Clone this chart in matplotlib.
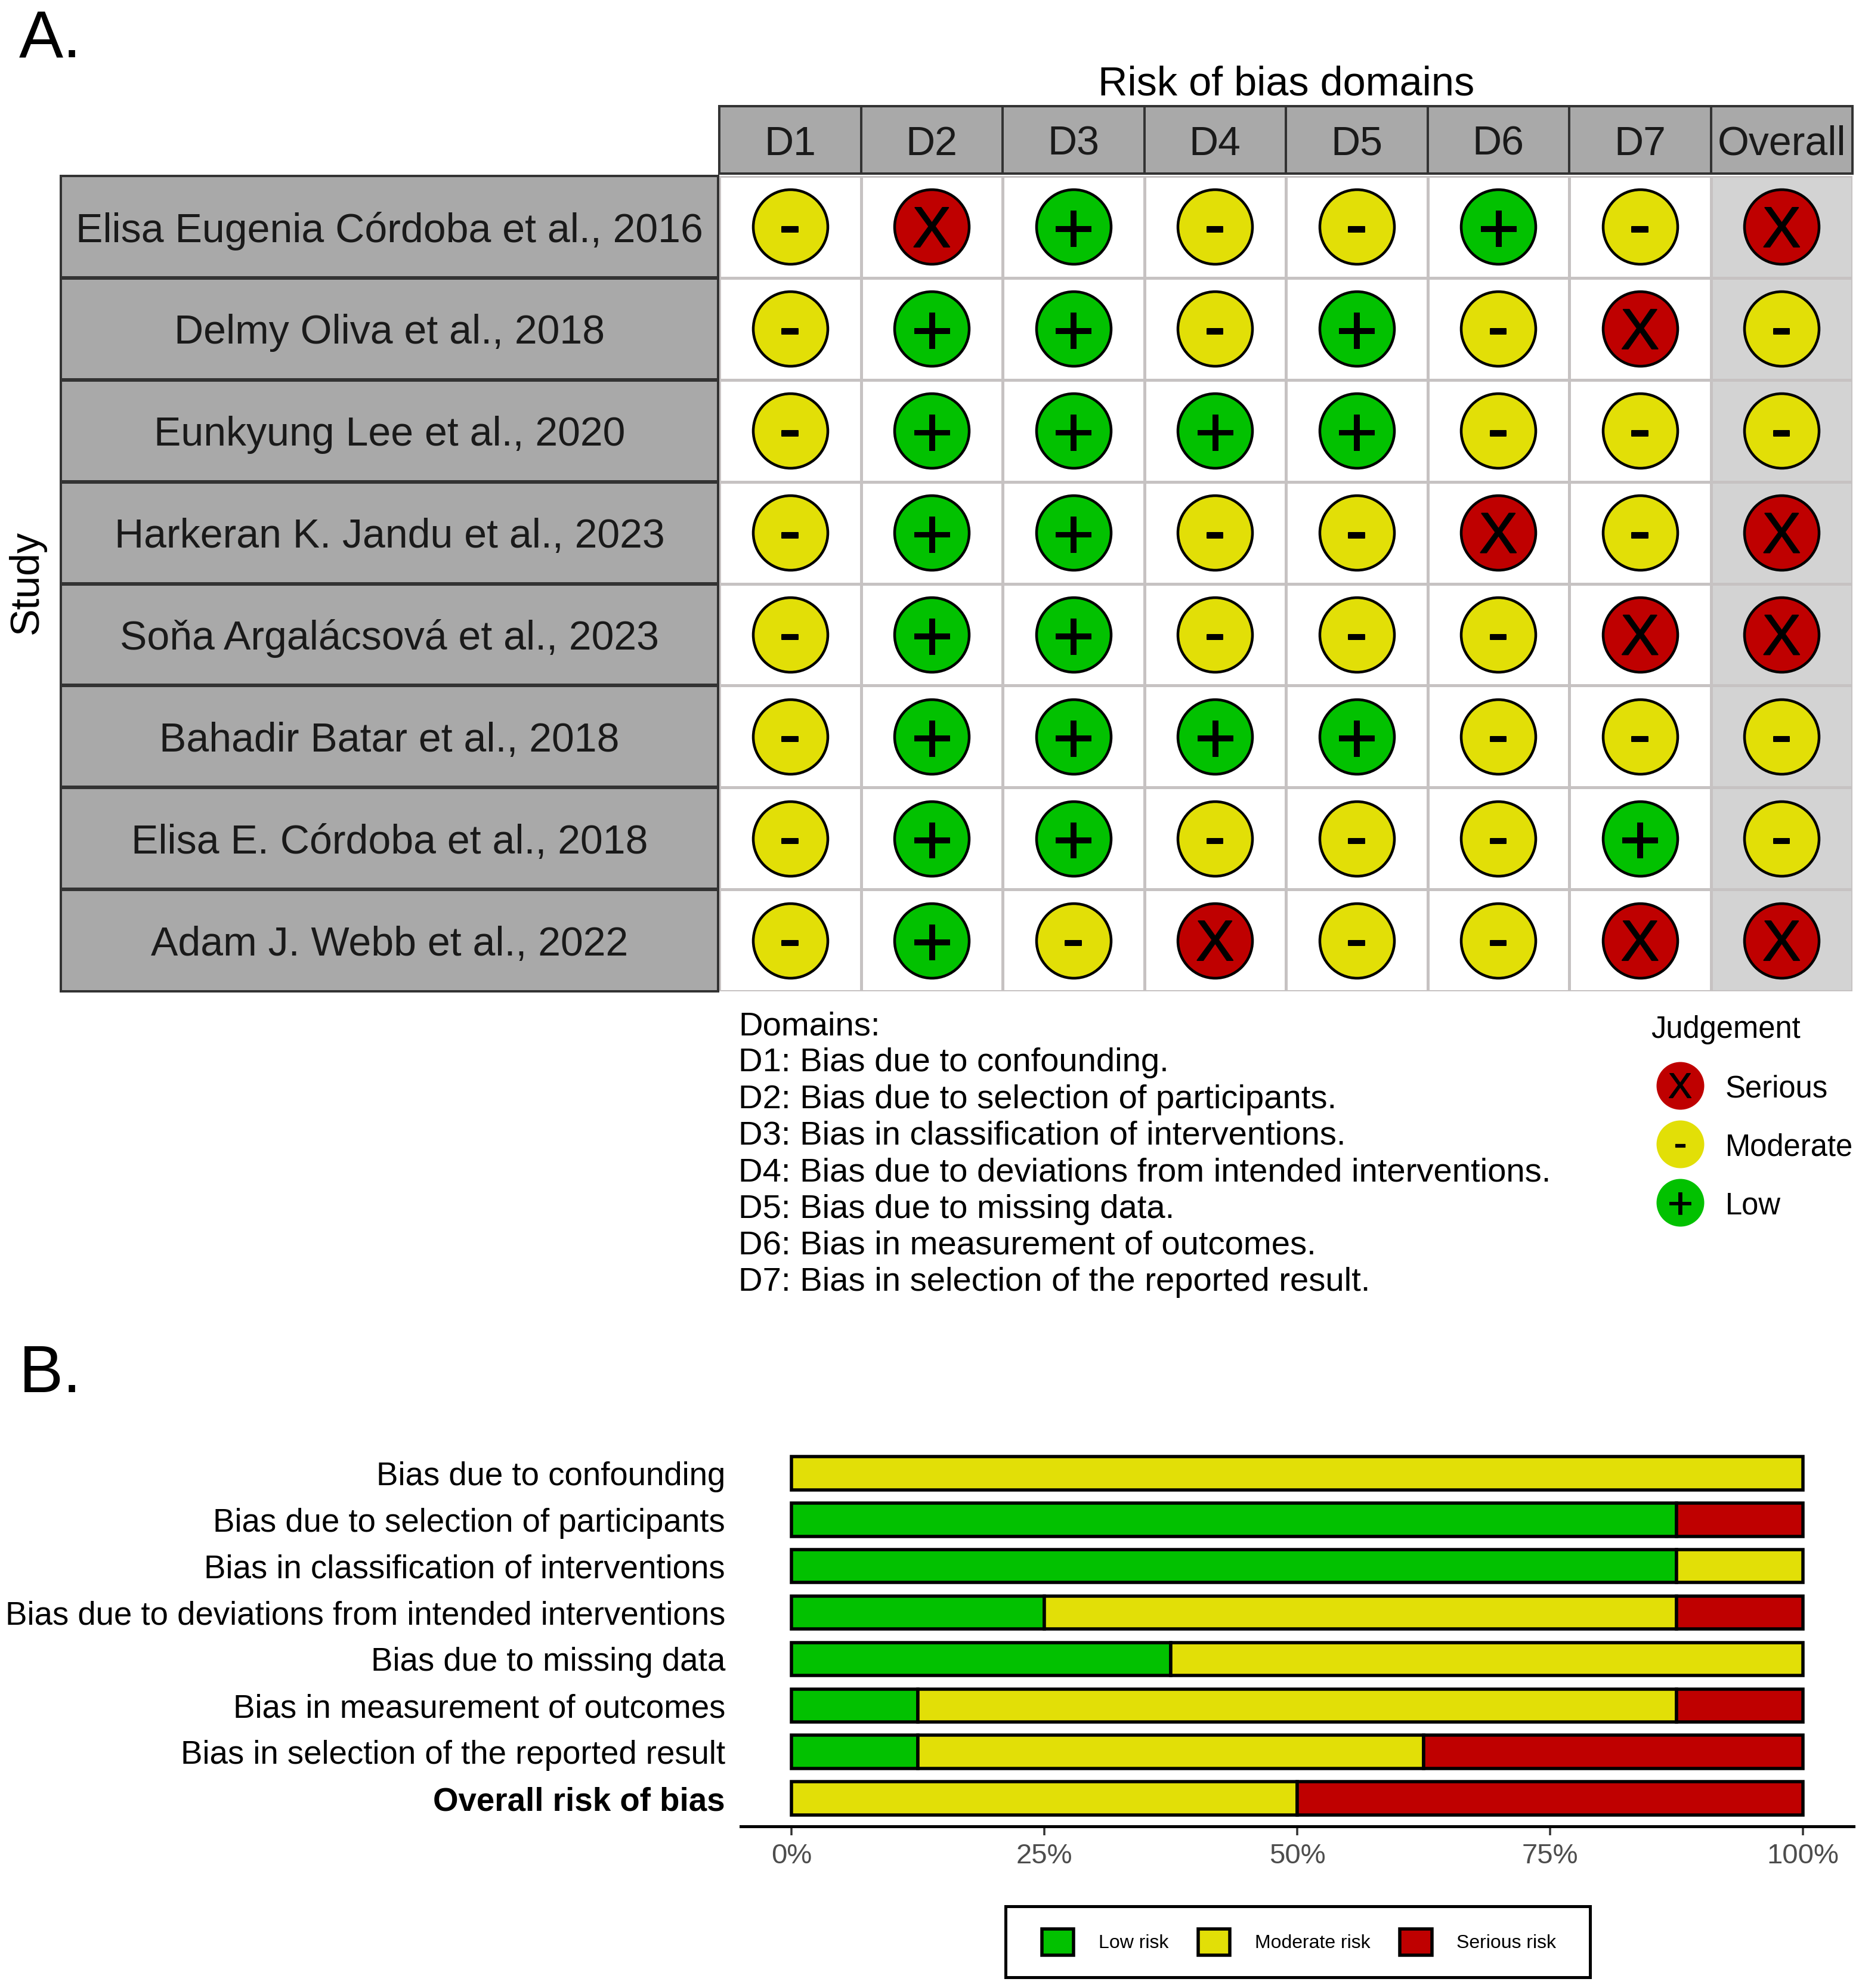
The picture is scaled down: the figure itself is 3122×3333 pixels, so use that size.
import matplotlib as mpl
mpl.use("Agg")
import numpy as np
import matplotlib.pyplot as plt
import matplotlib.patheffects as pe
from matplotlib.patches import Rectangle, Patch

plt.rcParams['font.family'] = ['Liberation Sans', 'DejaVu Sans']

W, H = 3122, 3333
DPI = 100

studies = ["Elisa Eugenia Córdoba et al., 2016", "Delmy Oliva et al., 2018",
           "Eunkyung Lee et al., 2020", "Harkeran K. Jandu et al., 2023",
           "Soňa Argalácsová et al., 2023", "Bahadir Batar et al., 2018",
           "Elisa E. Córdoba et al., 2018", "Adam J. Webb et al., 2022"]
domains = ["D1", "D2", "D3", "D4", "D5", "D6", "D7", "Overall"]
judgements = ["-X+--+-X",
              "-++-+-X-",
              "-++++---",
              "-++--X-X",
              "-++---XX",
              "-++++---",
              "-++---+-",
              "-+-X--XX"]
domain_notes = ["Domains:",
                "D1: Bias due to confounding.",
                "D2: Bias due to selection of participants.",
                "D3: Bias in classification of interventions.",
                "D4: Bias due to deviations from intended interventions.",
                "D5: Bias due to missing data.",
                "D6: Bias in measurement of outcomes.",
                "D7: Bias in selection of the reported result."]

bias_labels = ["Bias due to confounding", "Bias due to selection of participants",
               "Bias in classification of interventions",
               "Bias due to deviations from intended interventions",
               "Bias due to missing data", "Bias in measurement of outcomes",
               "Bias in selection of the reported result", "Overall risk of bias"]
low_risk = [0, 87.5, 87.5, 25, 37.5, 12.5, 12.5, 0]
moderate_risk = [100, 0, 12.5, 62.5, 62.5, 75, 50, 50]
serious_risk = [0, 12.5, 0, 12.5, 0, 12.5, 37.5, 50]
pct_ticks = [0, 25, 50, 75, 100]

RED, YELLOW, GREEN = "#BF0000", "#E2DF07", "#02C100"
fill = {"X": RED, "-": YELLOW, "+": GREEN}
STRIP = "#A9A9A9"
STRIP_EDGE = "#333333"
CELL_LINE = "#C6C2C2"


def pt(px):
    return px * 72 / DPI


def make_axes(left, top, right, bottom):
    return fig.add_axes([left / W, 1 - bottom / H, (right - left) / W, (bottom - top) / H])


def ftext(x, y, s, **kw):
    return fig.text(x / W, 1 - y / H, s, **kw)


def glyph(ax, x, y, j, scale=1.0):
    size = {"X": 69, "-": 78, "+": 88}[j] * scale
    lift = {"X": 1.5, "-": 6, "+": 1}[j] * scale
    thick = {"X": 2, "-": 2, "+": 1}[j] * scale
    t = ax.annotate(j, (x, y), xytext=(0, pt(lift)), textcoords="offset points", fontsize=size,
                    ha="center", va="center_baseline", color="black", zorder=5)
    t.set_path_effects([pe.withStroke(linewidth=pt(thick), foreground="black")])


fig = plt.figure(figsize=(W / DPI, H / DPI), dpi=DPI, facecolor="white")

# --- panel A ---
LEFT, RIGHT, TOP, BOTTOM = 1206, 3106, 295, 1662
ax = make_axes(LEFT, TOP, RIGHT, BOTTOM)
ax.set_xlim(0.5, len(domains) + 0.5)
ax.set_ylim(len(studies) + 0.5, 0.5)
ax.set_xticks([])
ax.set_yticks([])
ax.axvspan(7.5, 8.5, color="#D3D3D3", lw=0, zorder=0)
for i in range(len(domains) + 1):
    ax.axvline(i + 0.5, color=CELL_LINE, lw=pt(5), zorder=1)
for i in range(len(studies) + 1):
    ax.axhline(i + 0.5, color=CELL_LINE, lw=pt(5), zorder=1)
for s in ax.spines.values():
    s.set_visible(False)

for r, row in enumerate(judgements):
    for c, j in enumerate(row):
        ax.scatter(c + 1, r + 1, s=pt(125) ** 2, color=fill[j], edgecolor="black",
                   linewidth=pt(4.5), zorder=3, clip_on=False)
        glyph(ax, c + 1, r + 1, j)

# column strip
ax_head = make_axes(LEFT, 178, RIGHT, 291)
ax_head.set_xlim(ax.get_xlim())
ax_head.set_ylim(0, 1)
ax_head.set_facecolor(STRIP)
ax_head.set_xticks([])
ax_head.set_yticks([])
for s in ax_head.spines.values():
    s.set_color(STRIP_EDGE)
    s.set_linewidth(pt(4))
for i in range(1, len(domains)):
    ax_head.axvline(i + 0.5, color=STRIP_EDGE, lw=pt(4))
for i, d in enumerate(domains):
    ax_head.text(i + 1, 0.5, d, fontsize=49, ha="center", va="center_baseline", color="#1A1A1A")

# row strip
ax_study = make_axes(102, TOP, 1204, BOTTOM)
ax_study.set_xlim(0, 1)
ax_study.set_ylim(ax.get_ylim())
ax_study.set_facecolor(STRIP)
ax_study.set_xticks([])
ax_study.set_yticks([])
for s in ax_study.spines.values():
    s.set_color(STRIP_EDGE)
    s.set_linewidth(pt(4))
for i in range(1, len(studies)):
    ax_study.axhline(i + 0.5, color=STRIP_EDGE, lw=pt(6))
for i, st in enumerate(studies):
    ax_study.text(0.5, i + 1, st, fontsize=49, ha="center", va="center_baseline", color="#1A1A1A")

ftext(32, 56, "A.", fontsize=80, ha="left", va="center_baseline")
ftext(32, 2294, "B.", fontsize=80, ha="left", va="center_baseline")
ftext(2157, 135, "Risk of bias domains", fontsize=49.2, ha="center", va="center_baseline")
ftext(45, 976, "Study", fontsize=49, rotation=90, ha="center", va="center")

for i, line in enumerate(domain_notes):
    ftext(1238, 1715 + i * 61.3, line, fontsize=40.5, ha="left", va="center_baseline")

# judgement legend
ftext(2768, 1721, "Judgement", fontsize=36.5, ha="left", va="center_baseline")
ax_leg = make_axes(2770, 1771, 3110, 2065)
ax_leg.set_xlim(-47, 293)
ax_leg.set_ylim(3.5, 0.5)
ax_leg.axis("off")
for i, (j, name) in enumerate(zip("X-+", ["Serious", "Moderate", "Low"])):
    ax_leg.scatter(0, i + 1, s=pt(80) ** 2, color=fill[j], linewidth=0, zorder=3, clip_on=False)
    glyph(ax_leg, 0, i + 1, j, scale=0.62)
    ax_leg.text(76, i + 1, name, fontsize=36.5, ha="left", va="center_baseline", clip_on=False)

# --- panel B ---
ax_bar = make_axes(1242, 2423, 3108, 3062)
y = np.arange(1, len(bias_labels) + 1)
left = np.zeros(len(y))
series = [(low_risk, GREEN, "Low risk"), (moderate_risk, YELLOW, "Moderate risk"),
          (serious_risk, RED, "Serious risk")]
handles = []
for vals, col, name in series:
    vals = np.array(vals, dtype=float)
    keep = vals > 0
    ax_bar.barh(y[keep], vals[keep], left=left[keep], height=0.715, color=col,
                edgecolor="black", linewidth=pt(5.5))
    left = left + vals
    handles.append(Patch(facecolor=col, edgecolor="black", linewidth=pt(5.5), label=name))

ax_bar.set_xlim(-5, 105)
ax_bar.set_ylim(len(y) + 0.6, 0.4)
ax_bar.set_yticks(y)
ax_bar.set_yticklabels(bias_labels, fontsize=39.3, color="black")
ax_bar.tick_params(axis="y", length=0, pad=pt(26))
ax_bar.get_yticklabels()[-1].set_fontweight("bold")
ax_bar.set_xticks(pct_ticks)
ax_bar.set_xticklabels([f"{t}%" for t in pct_ticks], fontsize=34, color="#4D4D4D")
ax_bar.tick_params(axis="x", length=pt(15), width=pt(3.5), color=STRIP_EDGE, pad=pt(13))
for name in ["top", "left", "right"]:
    ax_bar.spines[name].set_visible(False)
ax_bar.spines["bottom"].set_linewidth(pt(5))

fig.add_artist(Rectangle((1686 / W, 1 - 3315 / H), 980 / W, 119 / H, transform=fig.transFigure,
                         facecolor="white", edgecolor="black", linewidth=pt(5)))
leg = fig.legend(handles=handles, ncol=3, frameon=False, fontsize=23, loc="center",
                 bbox_to_anchor=(2178 / W, 1 - 3256 / H), borderpad=0, handlelength=1.68,
                 handleheight=1.75, handletextpad=1.3, columnspacing=1.55)

fig.savefig("out.png", dpi=DPI, facecolor="white")
